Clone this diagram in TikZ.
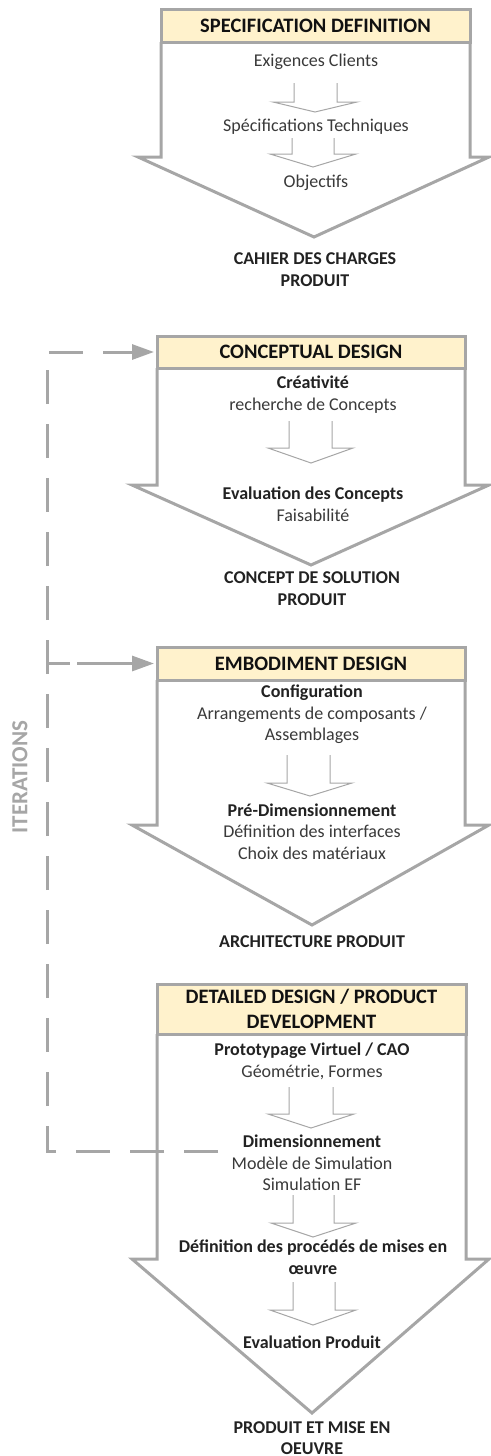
\documentclass[tikz,border=0pt]{standalone}
\usepackage{fontspec}
\setmainfont{Carlito}
\usetikzlibrary{arrows.meta}
\definecolor{framegray}{HTML}{A6A6A6}
\definecolor{hdrfill}{HTML}{FFF2CC}
\definecolor{txtgray}{HTML}{3A3A3A}
\definecolor{txtdark}{HTML}{222222}
\definecolor{hdrtxt}{HTML}{111111}
\newcommand{\bodyfs}{\fontsize{18}{21.5}\selectfont}
\newcommand{\hdrfs}{\fontsize{20.5}{25}\selectfont}
\newcommand{\hd}[1]{\textbf{\textcolor{txtdark}{#1}}}
% big arrow: x0 x1 yh ys wl wr tipx tipy
\newcommand{\bigArrowShape}[8]{\draw[frame] (#1,#3) -- (#1,#4) -- (#5,#4) -- (#7,#8) -- (#6,#4) -- (#2,#4) -- (#2,#3);}
% small arrow: xL xR ya yb wl wr tipx tipy
\newcommand{\stepArrowShape}[8]{\draw[smallarr] (#1,#3) -- (#1,#4) -- (#5,#4) -- (#7,#8) -- (#6,#4) -- (#2,#4) -- (#2,#3);}
\tikzset{
  frame/.style={draw=framegray, line width=3pt, fill=white, line join=miter},
  hdr/.style={draw=framegray, line width=3pt, fill=hdrfill, inner sep=0pt, font=\hdrfs\bfseries, text=hdrtxt, align=center},
  smallarr/.style={draw=framegray, line width=1pt, fill=white, line join=miter},
  txt/.style={font=\bodyfs, text=txtgray, align=center, inner sep=0pt},
  btxt/.style={font=\bodyfs\bfseries, text=txtdark, align=center, inner sep=0pt},
  loopline/.style={draw=framegray, line width=3pt, dash pattern=on 34pt off 20pt},
  looptip/.style={-{Triangle[length=22pt,width=15pt]}, shorten >=1.5pt},
}
\begin{document}
\begin{tikzpicture}[x=1pt,y=-1pt]
\useasboundingbox (0,0) rectangle (490,1456);

% ---------- arrow 1 ----------
\bigArrowShape{161}{470}{42}{157}{138}{489}{314}{237}
\node[hdr, minimum width=309pt, minimum height=33pt] (h1) at (315.5,25.5) {SPECIFICATION DEFINITION};
\node[txt] (t1a) at (316,62) {Exigences Clients};
\stepArrowShape{294}{337}{83}{102}{273}{357}{315}{112}
\node[txt] (t1b) at (316,127) {Spécifications Techniques};
\stepArrowShape{292}{334}{138}{154}{270}{356}{313}{167}
\node[txt] (t1c) at (316,183) {Objectifs};
\node[btxt] (o1) at (315,269.5) {CAHIER DES CHARGES\\PRODUIT};

% ---------- arrow 2 ----------
\bigArrowShape{157}{465}{368}{485}{132}{489}{311}{565}
\node[hdr, minimum width=308pt, minimum height=32pt] (h2) at (311,352) {CONCEPTUAL DESIGN};
\node[txt] (t2a) at (313,394.5) {\hd{Créativité}\\recherche de Concepts};
\stepArrowShape{289}{332}{421}{448}{268}{353}{311}{463}
\node[txt] (t2b) at (313,504) {\hd{Evaluation des Concepts}\\Faisabilité};
\node[btxt] (o2) at (312,588.5) {CONCEPT DE SOLUTION\\PRODUIT};

% ---------- arrow 3 ----------
\bigArrowShape{157}{465}{680}{825}{132}{489}{312}{925}
\node[hdr, minimum width=308pt, minimum height=33pt] (h3) at (311,663.5) {EMBODIMENT DESIGN};
\node[txt] (t3a) at (312,714.5) {\hd{Configuration}\\Arrangements de composants /\\Assemblages};
\stepArrowShape{287}{330}{755}{783}{267}{352}{310}{796}
\node[txt] (t3b) at (312,831.5) {\hd{Pré-Dimensionnement}\\Définition des interfaces\\Choix des matériaux};
\node[btxt] (o3) at (312,942) {ARCHITECTURE PRODUIT};

% ---------- arrow 4 ----------
\bigArrowShape{157}{466}{1034}{1259}{132}{489}{312}{1413}
\node[hdr, minimum width=309pt, minimum height=50pt] (h4) at (311.5,1009) {DETAILED DESIGN / PRODUCT\\DEVELOPMENT};
\node[txt] (t4a) at (312,1061.5) {\hd{Prototypage Virtuel / CAO}\\Géométrie, Formes};
\stepArrowShape{289}{333}{1087}{1114}{268}{354}{311}{1128}
\node[txt] (t4b) at (312,1163) {\hd{Dimensionnement}\\Modèle de Simulation\\Simulation EF};
\stepArrowShape{293}{334}{1195}{1223}{271}{356}{313}{1237}
\node[btxt] (t4c) at (313,1257) {Définition des procédés de mises en\\œuvre};
\stepArrowShape{293}{335}{1282}{1310}{270}{356}{313}{1325}
\node[btxt] (t4d) at (312,1342) {Evaluation Produit};
\node[btxt, font=\fontsize{18}{20.5}\selectfont\bfseries] (o4) at (312,1438) {PRODUIT ET MISE EN\\OEUVRE};

% ---------- iteration loop ----------
\coordinate (loopstart) at (218,1151);
\coordinate (loopcorner) at (47,1151);
\coordinate (looptop) at (47,352);
\draw[loopline, looptip] (loopstart) -- (loopcorner) -- (looptop) -- (h2.west);
\draw[draw=framegray, line width=3pt, dash pattern=on 23pt off 7pt on 60pt off 20pt, looptip] (looptop |- h3.west) -- (h3.west);
\node[rotate=90, text=framegray, font=\fontsize{23}{27}\selectfont\bfseries, inner sep=0pt] (iter) at (20,777) {ITERATIONS};
\end{tikzpicture}
\end{document}
